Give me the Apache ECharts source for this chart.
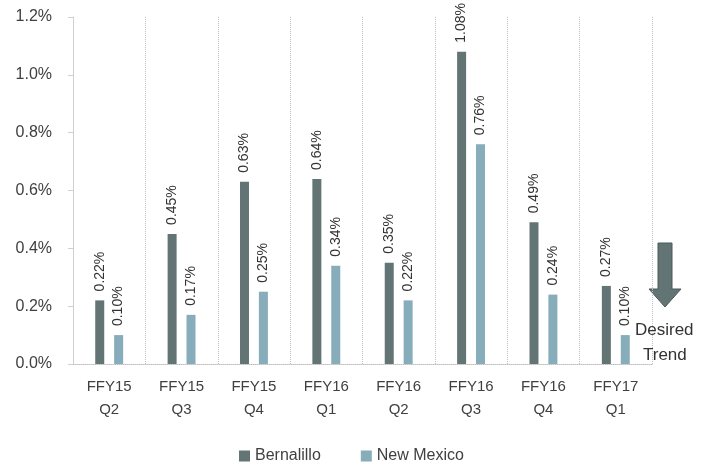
<!DOCTYPE html>
<html><head><meta charset="utf-8">
<script src="https://cdn.jsdelivr.net/npm/echarts@6/dist/echarts.min.js"></script>
<style>html,body{margin:0;padding:0;background:#fff}#c{width:707px;height:471px}</style>
</head><body><div id="c"></div>
<script>
const categories = ['FFY15\nQ2','FFY15\nQ3','FFY15\nQ4','FFY16\nQ1','FFY16\nQ2','FFY16\nQ3','FFY16\nQ4','FFY17\nQ1'];
const bernalillo = [0.22,0.45,0.63,0.64,0.35,1.08,0.49,0.27];
const newMexico = [0.10,0.17,0.25,0.34,0.22,0.76,0.24,0.10];
const yTicks = {min:0, max:1.2, interval:0.2};
const FONT = '"Liberation Sans", "DejaVu Sans", sans-serif';
const chart = echarts.init(document.getElementById('c'));
const lbl = {show:true, position:'top', rotate:90, align:'left', verticalAlign:'middle', distance:9,
  fontFamily:FONT, fontSize:14, color:'#333', formatter:p=>p.value.toFixed(2)+'%'};
chart.setOption({
  animation:false,
  textStyle:{fontFamily:FONT},
  grid:{left:73,right:55,top:17,bottom:107,containLabel:false},
  legend:{bottom:2,left:234,icon:'rect',itemWidth:11,itemHeight:11,itemGap:40,
    textStyle:{fontFamily:FONT,fontSize:16,color:'#404040'}},
  xAxis:{type:'category',data:categories,boundaryGap:true,
    axisLine:{lineStyle:{color:'#bfbfbf',type:'dotted'}},
    axisTick:{show:false},
    splitLine:{show:true,interval:0,lineStyle:{color:'#bfbfbf',type:'dotted'}},
    axisLabel:{interval:0,fontFamily:FONT,fontSize:15,color:'#404040',lineHeight:23,margin:11}},
  yAxis:{type:'value',min:yTicks.min,max:yTicks.max,interval:yTicks.interval,
    axisLine:{show:true,lineStyle:{color:'#d0d0d0'}},
    axisTick:{show:true,length:5,lineStyle:{color:'#d0d0d0'}},
    splitLine:{show:false},
    axisLabel:{fontFamily:FONT,fontSize:16,color:'#404040',margin:21,formatter:v=>v.toFixed(1)+'%'}},
  series:[
    {name:'Bernalillo',type:'bar',data:bernalillo,barWidth:9,barGap:'110%',
     itemStyle:{color:'#637475'},label:lbl},
    {name:'New Mexico',type:'bar',data:newMexico,barWidth:9,
     itemStyle:{color:'#86adb9'},label:lbl}
  ],
  graphic:[
    {type:'polygon',shape:{points:[[658,243],[672,243],[672,289],[681,289],[665,307],[649,289],[658,289]]},
     style:{fill:'#637475',stroke:'#4a5859',lineWidth:1}},
    {type:'text',left:635,top:322,style:{text:'Desired',font:'17px '+FONT,fill:'#333'}},
    {type:'text',left:643,top:347,style:{text:'Trend',font:'17px '+FONT,fill:'#333'}}
  ]
});
</script></body></html>
